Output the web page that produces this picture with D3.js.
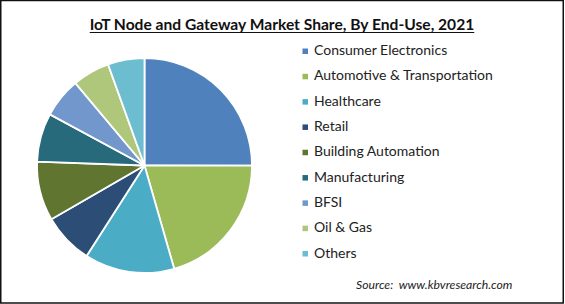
<!DOCTYPE html>
<html><head><meta charset="utf-8">
<script src="https://cdn.jsdelivr.net/npm/d3@7/dist/d3.min.js"></script>
<style>html,body{margin:0;padding:0;background:#fff}svg{display:block}</style>
</head><body>
<svg id="chart" width="565" height="304"></svg>
<script>
const title = "IoT Node and Gateway Market Share, By End-Use, 2021";
const source = "Source:  www.kbvresearch.com";
const categories = ["Consumer Electronics","Automotive & Transportation","Healthcare","Retail","Building Automation","Manufacturing","BFSI","Oil & Gas","Others"];
const shares = [25.0, 20.5, 13.5, 7.6, 8.9, 7.3, 6.0, 5.6, 5.5];
const colors = ["#4f81bd","#9bbb59","#4bacc6","#2c4d75","#5f7530","#276a7c","#7297cd","#aec77a","#6dbdd1"];

const svg = d3.select("#chart");
const font = "Lato, 'Open Sans', sans-serif";

svg.append("rect").attr("x",0).attr("y",0).attr("width",565).attr("height",304).attr("fill","#fff");
svg.append("rect").attr("x",0.75).attr("y",0.5).attr("width",562.5).attr("height",302.5)
  .attr("fill","none").attr("stroke","#111").attr("stroke-width",1.5);

// title
const t = svg.append("text").attr("x",282).attr("y",29.5).attr("text-anchor","middle")
  .attr("font-family",font).attr("font-weight","bold").attr("font-size",15.6).attr("fill","#111").text(title);
const tw = t.node().getComputedTextLength();
svg.append("line").attr("x1",282-tw/2).attr("x2",282+tw/2).attr("y1",32.5).attr("y2",32.5)
  .attr("stroke","#111").attr("stroke-width",1.2);

// pie
const cx = 144.5, cy = 165.5, r = 107.5;
const pie = d3.pie().sort(null).value(d=>d)(shares);
const arc = d3.arc().innerRadius(0).outerRadius(r);
const color = d3.scaleOrdinal().domain(categories).range(colors);
svg.append("g").attr("transform",`translate(${cx},${cy})`)
  .selectAll("path").data(pie).join("path")
  .attr("d",arc).attr("fill",(d,i)=>color(categories[i]))
  .attr("stroke","#fff").attr("stroke-width",1.8).attr("stroke-linejoin","round");

// legend
const y = d3.scaleLinear().domain([0,categories.length-1]).range([55,257.5]);
const lg = svg.append("g");
const items = lg.selectAll("g").data(categories).join("g")
  .attr("transform",(d,i)=>`translate(0,${y(i)})`);
items.append("rect").attr("x",302.5).attr("y",-6.5).attr("width",5.5).attr("height",5.5)
  .attr("fill",d=>color(d));
items.append("text").attr("x",314).attr("y",0).attr("font-family",font)
  .attr("font-size",14).attr("fill","#222").text(d=>d);

// source
svg.append("text").attr("x",356).attr("y",288.5).attr("font-family",font)
  .attr("font-style","italic").attr("font-size",12.2).attr("fill","#222")
  .style("white-space","pre").text(source);
</script>
</body></html>
